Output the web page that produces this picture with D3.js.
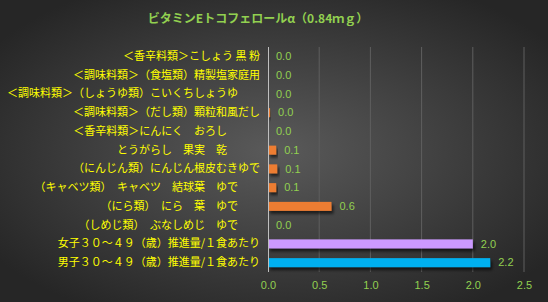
<!DOCTYPE html>
<html>
<head>
<meta charset="utf-8">
<script src="https://cdn.jsdelivr.net/npm/d3@7"></script>
<style>
  html, body { margin: 0; padding: 0; background: #333; }
  .chart { width: 548px; height: 302px; }
</style>
</head>
<body>
<div class="chart"></div>
<script>
var categories = [
  '＜香辛料類＞こしょう 黒 粉',
  '＜調味料類＞（食塩類）精製塩家庭用',
  '＜調味料類＞（しょうゆ類）こいくちしょうゆ　　',
  '＜調味料類＞（だし類）顆粒和風だし',
  '＜香辛料類＞にんにく　おろし　　　',
  'とうがらし　果実　乾　　　',
  '（にんじん類）にんじん根皮むきゆで',
  '（キャベツ類）　キャベツ　結球葉　ゆで　　',
  '（にら類）　にら　葉　ゆで　　',
  '（しめじ類）　ぶなしめじ　ゆで　　',
  '女子３０～４９（歳）推進量/１食あたり',
  '男子３０～４９（歳）推進量/１食あたり'
];
var values = [0, 0, 0, 0.02, 0, 0.08, 0.09, 0.08, 0.62, 0, 2.0, 2.17];
var barColors = ['#ED7D31', '#ED7D31', '#ED7D31', '#ED7D31', '#ED7D31', '#ED7D31',
                 '#ED7D31', '#ED7D31', '#ED7D31', '#ED7D31', '#CC99FF', '#00B0F0'];
var xTicks = [0, 0.5, 1.0, 1.5, 2.0, 2.5];
var title = 'ビタミンEトコフェロールα（0.84ｍｇ）';

var W = 548, H = 302;
var margin = { top: 47, right: 24, bottom: 30, left: 268 };
var width = W - margin.left - margin.right;
var height = H - margin.top - margin.bottom;

var x = d3.scaleLinear().domain([0, 2.5]).range([0, width]);
var y = d3.scaleBand().domain(categories).range([0, height]).paddingInner(0.52).paddingOuter(0.26);

var svg = d3.select('.chart').append('svg')
    .attr('width', W)
    .attr('height', H);

var defs = svg.append('defs');
var grad = defs.append('radialGradient')
    .attr('id', 'bg')
    .attr('cx', '50%').attr('cy', '50%').attr('r', '62%');
grad.append('stop').attr('offset', '0%').attr('stop-color', '#5a5a5a');
grad.append('stop').attr('offset', '100%').attr('stop-color', '#262626');

var shadow = defs.append('filter')
    .attr('id', 'shadow')
    .attr('x', '-10%').attr('y', '-50%').attr('width', '130%').attr('height', '220%');
shadow.append('feDropShadow')
    .attr('dx', 2).attr('dy', 3)
    .attr('stdDeviation', 1.5)
    .attr('flood-color', '#000')
    .attr('flood-opacity', 0.6);

svg.append('rect')
    .attr('width', W)
    .attr('height', H)
    .attr('fill', 'url(#bg)');

svg.append('text')
    .attr('x', 258)
    .attr('y', 23)
    .attr('text-anchor', 'middle')
    .attr('fill', '#92D050')
    .attr('font-family', '"Noto Sans CJK JP", sans-serif')
    .attr('font-size', '12px')
    .attr('font-weight', 'bold')
    .text(title);

var g = svg.append('g')
    .attr('transform', 'translate(' + margin.left + ',' + margin.top + ')');

// grid lines
g.selectAll('line.grid')
    .data(xTicks.slice(1))
    .enter().append('line')
    .attr('class', 'grid')
    .attr('x1', function(d) { return x(d); })
    .attr('x2', function(d) { return x(d); })
    .attr('y1', 0)
    .attr('y2', height)
    .attr('stroke', '#5f5f5f')
    .attr('stroke-width', 1);

// x axis tick labels
var xAxis = d3.axisBottom(x).tickValues(xTicks).tickFormat(d3.format('.1f')).tickSize(0).tickPadding(9);
var xa = g.append('g')
    .attr('transform', 'translate(0,' + height + ')')
    .call(xAxis);
xa.select('.domain').remove();
xa.selectAll('text')
    .attr('fill', '#92D050')
    .attr('font-family', '"Liberation Sans", sans-serif')
    .attr('font-size', '11px');

// bars
g.selectAll('rect.bar')
    .data(values)
    .enter().append('rect')
    .attr('class', 'bar')
    .attr('x', 0)
    .attr('y', function(d, i) { return y(categories[i]); })
    .attr('width', function(d) { return x(d); })
    .attr('height', y.bandwidth())
    .attr('fill', function(d, i) { return barColors[i]; })
    .attr('filter', function(d) { return d > 0 ? 'url(#shadow)' : null; });

// y axis line and labels
var yAxis = d3.axisLeft(y).tickSize(0).tickPadding(8);
var ya = g.append('g').call(yAxis);
ya.select('.domain')
    .attr('stroke', '#bfbfbf')
    .attr('d', 'M0.5,0V' + height);
ya.selectAll('text')
    .attr('fill', '#FFFF00')
    .attr('font-family', '"Noto Sans CJK JP", sans-serif')
    .attr('font-size', '11px')
    .style('white-space', 'pre');

// value labels
g.selectAll('text.val')
    .data(values)
    .enter().append('text')
    .attr('class', 'val')
    .attr('x', function(d) { return x(d) + 8; })
    .attr('y', function(d, i) { return y(categories[i]) + y.bandwidth() / 2; })
    .attr('dy', '0.35em')
    .attr('fill', '#92D050')
    .attr('font-family', '"Liberation Sans", sans-serif')
    .attr('font-size', '11px')
    .text(function(d) { return d3.format('.1f')(d); });
</script>
</body>
</html>
